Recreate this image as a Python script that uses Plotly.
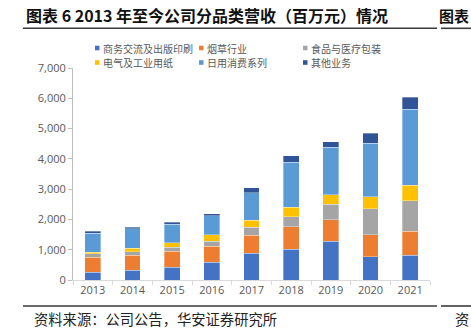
import plotly.graph_objects as go

# Revenue by product line, million yuan
years = ["2013", "2014", "2015", "2016", "2017", "2018", "2019", "2020", "2021"]
business_printing = [260, 327, 415, 581, 890, 1011, 1276, 768, 812]
tobacco = [486, 485, 530, 529, 596, 740, 706, 729, 795]
food_medical = [122, 122, 143, 177, 252, 331, 519, 850, 1004]
electrical_industrial = [55, 110, 144, 210, 243, 320, 320, 397, 519]
daily_consumer = [629, 641, 607, 628, 905, 1490, 1567, 1766, 2506]
other_business = [66, 65, 76, 66, 155, 210, 177, 342, 397]

series_names = ["商务交流及出版印刷", "烟草行业", "食品与医疗包装",
                "电气及工业用纸", "日用消费系列", "其他业务"]
series_values = [business_printing, tobacco, food_medical,
                 electrical_industrial, daily_consumer, other_business]
series_colors = ["#4472C4", "#ED7D31", "#A5A5A5", "#FFC000", "#5B9BD5", "#2F5597"]

y_ticks = [0, 1000, 2000, 3000, 4000, 5000, 6000, 7000]

W, H = 471, 328
L, R, T, B = 73, 430, 68, 280  # plot area in pixels


def px_x(x):
    return (x - L) / (R - L)


def px_y(y):
    return (B - y) / (B - T)


fig = go.Figure()
for name, vals, color in zip(series_names, series_values, series_colors):
    fig.add_trace(go.Bar(
        x=years, y=vals, name=name, width=0.4,
        marker=dict(color=color, line=dict(color="rgba(255,255,255,0.55)", width=0.6)),
        showlegend=False,
    ))

label_font = dict(family="Noto Sans CJK SC", size=10, color="#595959")
tick_font = dict(family="Open Sans", size=11, color="#595959")

shapes = []
annotations = []

# legend: two rows of three entries
legend_cols = [95, 199, 303]
legend_rows = [48, 62.5]
for i, (name, color) in enumerate(zip(series_names, series_colors)):
    cx = legend_cols[i % 3]
    cy = legend_rows[i // 3]
    shapes.append(dict(type="rect", xref="paper", yref="paper",
                       x0=px_x(cx), x1=px_x(cx + 4.5),
                       y0=px_y(cy + 2.3), y1=px_y(cy - 2.3),
                       fillcolor=color, line=dict(width=0)))
    annotations.append(dict(text=name, xref="paper", yref="paper",
                            x=px_x(cx + 6), y=px_y(cy), xanchor="left", yanchor="middle",
                            showarrow=False, font=label_font))

# header and footer rules
for x0, x1, y in [(23, 437, 28.3), (441, 471, 28.3), (23, 437, 306), (441, 471, 306)]:
    shapes.append(dict(type="line", xref="paper", yref="paper",
                       x0=px_x(x0), x1=px_x(x1), y0=px_y(y), y1=px_y(y),
                       line=dict(color="#3a3a3a", width=1.6)))

annotations.append(dict(text="<b>图表 6 2013 年至今公司分品类营收（百万元）情况</b>",
                        xref="paper", yref="paper", x=px_x(24), y=px_y(15.5),
                        xanchor="left", yanchor="middle", showarrow=False,
                        font=dict(family="Noto Sans CJK SC", size=16, color="#111111")))
annotations.append(dict(text="<b>图表</b>",
                        xref="paper", yref="paper", x=px_x(471), y=px_y(15.5),
                        xanchor="right", yanchor="middle", showarrow=False,
                        font=dict(family="Noto Sans CJK SC", size=15, color="#111111")))
annotations.append(dict(text="资料来源：公司公告，华安证券研究所",
                        xref="paper", yref="paper", x=px_x(32), y=px_y(318),
                        xanchor="left", yanchor="middle", showarrow=False,
                        font=dict(family="Noto Sans CJK SC", size=14.3, color="#222222")))
annotations.append(dict(text="资",
                        xref="paper", yref="paper", x=px_x(471), y=px_y(318),
                        xanchor="right", yanchor="middle", showarrow=False,
                        font=dict(family="Noto Sans CJK SC", size=14.3, color="#222222")))

fig.update_layout(
    width=W, height=H,
    margin=dict(l=L, r=W - R, t=T, b=H - B, pad=0),
    barmode="stack",
    paper_bgcolor="white", plot_bgcolor="white",
    showlegend=False,
    shapes=shapes, annotations=annotations,
    xaxis=dict(showline=True, linecolor="#D9D9D9", linewidth=1,
               ticks="outside", tickson="boundaries", ticklen=4, tickcolor="#D9D9D9",
               tickfont=tick_font, showgrid=False, fixedrange=True),
    yaxis=dict(range=[0, 7000], tickvals=y_ticks, tickformat=",d",
               showline=True, linecolor="#BFBFBF", linewidth=1,
               ticks="outside", ticklen=4, tickcolor="#BFBFBF",
               tickfont=tick_font, showgrid=False, zeroline=False, fixedrange=True),
)

fig.write_html("out.html", config={"displayModeBar": False})
